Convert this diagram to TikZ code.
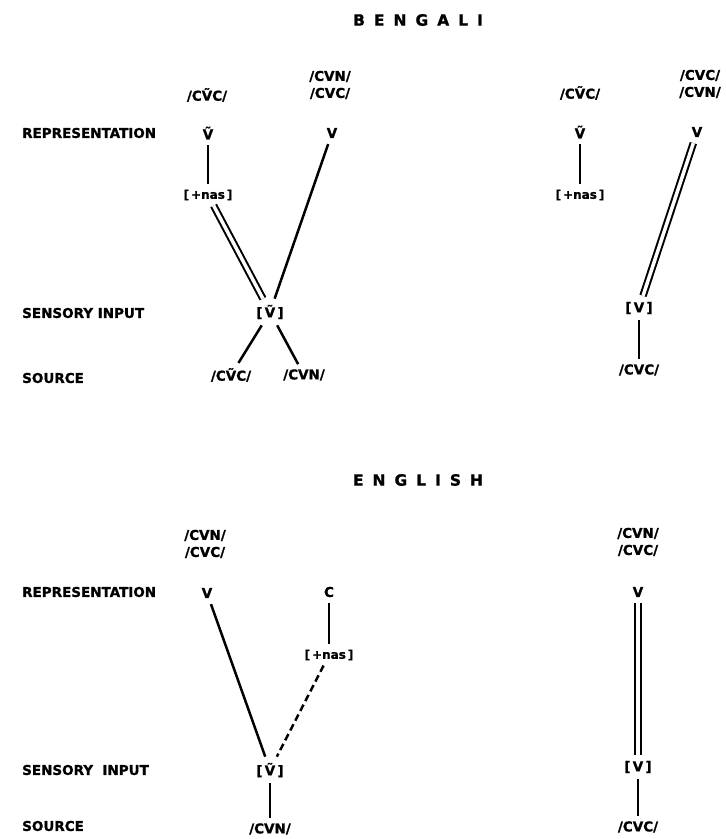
\documentclass[tikz,border=0pt]{standalone}
\usepackage{fontspec}
\setmainfont{DejaVu Sans}
\newfontfamily\heavyfont[FakeBold=1.2]{DejaVu Sans Bold}

\tikzset{
  rowlabel/.style={anchor=west, inner sep=0pt, font=\heavyfont\fontsize{13.5}{16}\selectfont},
  form/.style={font=\heavyfont\fontsize{13.5}{17}\selectfont, align=center, inner sep=5pt},
  seg/.style={font=\heavyfont\fontsize{13.5}{16}\selectfont, inner sep=6pt},
  feat/.style={font=\heavyfont\fontsize{12}{14}\selectfont, inner sep=5pt},
  heading/.style={font=\heavyfont\fontsize{15.5}{18}\selectfont},
  link/.style={line width=2.5pt},
  dbllink/.style={line width=2pt, double, double distance=3.5pt},
  dashlink/.style={line width=2.5pt, dash pattern=on 7pt off 4pt}
}
\newcommand{\nasV}{\~{V}}
\newcommand{\spacedtitle}[1]{{\spaceskip=9pt #1}}

\begin{document}
\begin{tikzpicture}[x=1pt,y=-1pt]
\useasboundingbox (0,0) rectangle (726,839);

%%%%% BENGALI %%%%%
\node[heading] (bengali) at (418,20) {\spacedtitle{B E N G A L I}};

\node[rowlabel] (repA) at (22,133) {REPRESENTATION};
\node[rowlabel] (sensA) at (22,313) {SENSORY INPUT};
\node[rowlabel] (srcA) at (22,378) {SOURCE};

% left case
\node[form] (phA) at (207,95) {/C\nasV C/};
\node[form] (phB) at (330,85) {/CVN/\\/CVC/};
\node[seg] (segA) at (208,133) {\nasV};
\node[seg] (segB) at (332,133) {V};
\node[feat] (featA) at (208,195) {[\,+nas\,]};
\node[seg] (inA) at (270,312) {[\,\nasV\,]};
\node[form] (srcCA) at (231,375) {/C\nasV C/};
\node[form] (srcCB) at (304,375) {/CVN/};

\draw[link] (segA) -- (featA);
\draw[dbllink] (featA) -- (inA);
\draw[link] (segB) -- (inA);
\draw[link] (inA) -- (srcCA);
\draw[link] (inA) -- (srcCB);

% right case
\node[form] (phC) at (580,93) {/C\nasV C/};
\node[form] (phD) at (700,84) {/CVC/\\/CVN/};
\node[seg] (segC) at (580,132) {\nasV};
\node[seg] (segD) at (697,132) {V};
\node[feat] (featB) at (580,195) {[\,+nas\,]};
\node[seg] (inB) at (639,308) {[\,V\,]};
\node[form] (srcCC) at (639,370) {/CVC/};

\draw[link] (segC) -- (featB);
\draw[dbllink] (segD) -- (inB);
\draw[link] (inB) -- (srcCC);

%%%%% ENGLISH %%%%%
\node[heading] (english) at (418,480) {\spacedtitle{E N G L I S H}};

\node[rowlabel] (repB) at (22,592) {REPRESENTATION};
\node[rowlabel] (sensB) at (22,770) {SENSORY\ \ INPUT};
\node[rowlabel] (srcB) at (22,826) {SOURCE};

% left case
\node[form] (phE) at (205,544) {/CVN/\\/CVC/};
\node[seg] (segE) at (207,593) {V};
\node[seg] (segF) at (329,592) {C};
\node[feat] (featC) at (329,655) {[\,+nas\,]};
\node[seg] (inC) at (270,770) {[\,\nasV\,]};
\node[form] (srcCD) at (270,829) {/CVN/};

\draw[link] (segF) -- (featC);
\draw[link] (segE) -- (inC);
\draw[dashlink] (featC) -- (inC);
\draw[link] (inC) -- (srcCD);

% right case
\node[form] (phF) at (638,542) {/CVN/\\/CVC/};
\node[seg] (segG) at (638,592) {V};
\node[seg] (inD) at (638,767) {[\,V\,]};
\node[form] (srcCE) at (638,827) {/CVC/};

\draw[dbllink] (segG) -- (inD);
\draw[link] (inD) -- (srcCE);
\end{tikzpicture}
\end{document}
